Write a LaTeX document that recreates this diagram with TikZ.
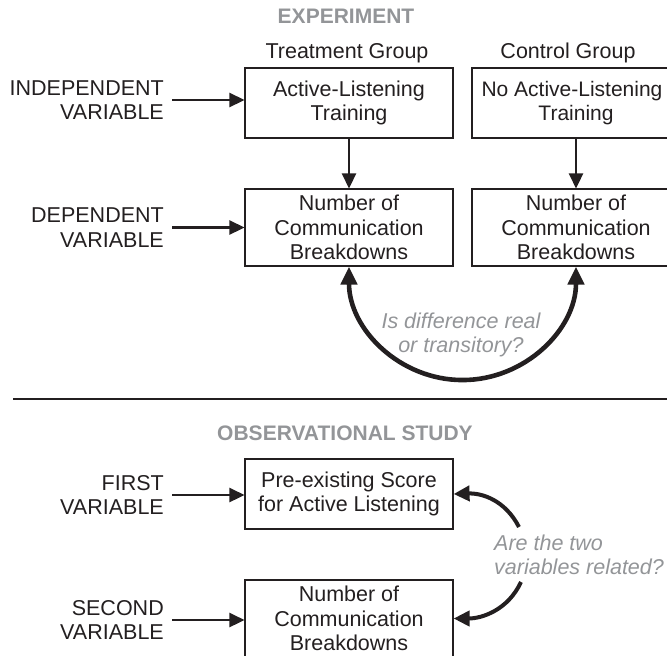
\documentclass[tikz,border=0pt]{standalone}
\usepackage{fontspec}
\setmainfont{Liberation Sans}
\usetikzlibrary{arrows.meta}
\definecolor{ink}{HTML}{231F20}
\definecolor{soft}{HTML}{939598}
\begin{document}
\begin{tikzpicture}[x=1pt,y=-1pt,
  font=\fontsize{21.5}{24.5}\selectfont,
  box/.style={draw=ink, line width=1.1pt, minimum width=208pt, align=center, inner sep=0pt, text=ink},
  lab/.style={align=right, anchor=east, inner sep=0pt, text=ink},
  head/.style={font=\fontsize{21}{24}\selectfont\bfseries, text=soft},
  note/.style={font=\fontsize{21.5}{24.5}\selectfont\itshape, text=soft, inner sep=0pt},
  arr/.style={draw=ink, line width=2.6pt, -{Triangle[length=15pt,width=14pt]}},
  bigarr/.style={draw=ink, line width=4.6pt, {Triangle[length=18pt,width=16pt]}-{Triangle[length=18pt,width=16pt]}},
  carr/.style={draw=ink, line width=4pt, -{Triangle[length=16pt,width=15pt]}}]
\clip (0,0) rectangle (667,656);
% experiment
\node[head] (exp) at (346,16) {EXPERIMENT};
\node[text=ink] (tg) at (347,53) {Treatment Group};
\node[text=ink] (cg) at (568,53) {Control Group};
\node[box, minimum height=70pt] (b1) at (349,103) {Active-Listening\\Training};
\node[box, minimum height=70pt, font=\fontsize{21}{24.5}\selectfont] (b2) at (576,103) {No Active-Listening\hspace*{8pt}\\Training};
\node[box, minimum height=77pt] (b3) at (349,227.5) {Number of\\Communication\\Breakdowns};
\node[box, minimum height=77pt] (b4) at (576,227.5) {Number of\\Communication\\Breakdowns};
\node[lab] (iv) at (164,100) {INDEPENDENT\\VARIABLE};
\node[lab] (dv) at (164,227.5) {DEPENDENT\\VARIABLE};
\draw[arr, shorten <=8pt] (iv.east) -- (iv.east -| b1.west);
\draw[arr, shorten <=8pt] (dv.east) -- (dv.east -| b3.west);
\draw[arr] (b1.south) -- (b3.north);
\draw[arr] (b2.south) -- (b4.north);
\draw[bigarr] (b3.south) arc[start angle=180, end angle=0, radius=113.5];
\node[note, align=center] (q1) at (461,335) {Is difference real\\or transitory?};
% separator
\coordinate (sepL) at (13,399);
\coordinate (sepR) at (667,399);
\draw[ink, line width=1.2pt] (sepL) -- (sepR);
% observational study
\node[head] (obs) at (345,433) {OBSERVATIONAL STUDY};
\node[box, minimum height=70pt] (b5) at (349,494) {Pre-existing Score\\for Active Listening};
\node[box, minimum height=77pt] (b6) at (349,618.5) {Number of\\Communication\\Breakdowns};
\node[lab] (fv) at (164,495) {FIRST\\VARIABLE};
\node[lab] (sv) at (164,620) {SECOND\\VARIABLE};
\draw[arr, shorten <=8pt] (fv.east) -- (fv.east -| b5.west);
\draw[arr, shorten <=8pt] (sv.east) -- (sv.east -| b6.west);
\node[note, align=left, anchor=west] (q2) at (494,555) {Are the two\\variables related?};
\coordinate (c1) at (519,527);
\coordinate (c2) at (521,582);
\draw[carr] (c1) .. controls (505,500) and (482,493) .. (b5.east);
\draw[carr] (c2) .. controls (508,610) and (482,618.5) .. (b6.east);
\end{tikzpicture}
\end{document}
